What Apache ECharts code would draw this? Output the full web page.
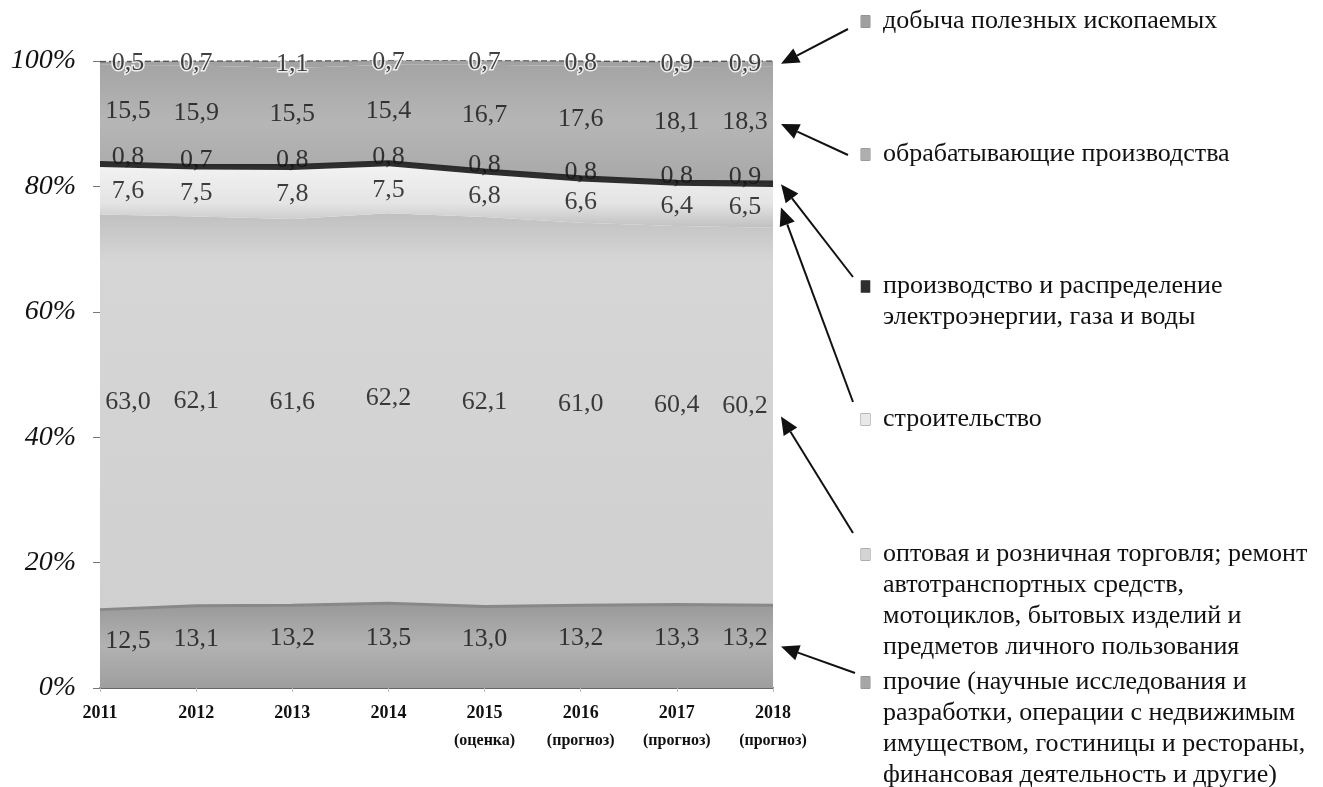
<!DOCTYPE html>
<html>
<head>
<meta charset="utf-8">
<script src="https://cdn.jsdelivr.net/npm/echarts@6/dist/echarts.min.js"></script>
<style>
html,body{margin:0;padding:0;background:#fff;}
#c{width:1323px;height:787px;}
</style>
</head>
<body>
<div id="c"></div>
<script>
// ---------- data ----------
const years = ['2011','2012','2013','2014','2015','2016','2017','2018'];
const yearNotes = ['','','','','(оценка)','(прогноз)','(прогноз)','(прогноз)'];
const yTickLabels = ['0%','20%','40%','60%','80%','100%'];

const other         = [12.5,13.1,13.2,13.5,13.0,13.2,13.3,13.2];
const trade         = [63.0,62.1,61.6,62.2,62.1,61.0,60.4,60.2];
const construction  = [7.6,7.5,7.8,7.5,6.8,6.6,6.4,6.5];
const energy        = [0.8,0.7,0.8,0.8,0.8,0.8,0.8,0.9];
const manufacturing = [15.5,15.9,15.5,15.4,16.7,17.6,18.1,18.3];
const mining        = [0.5,0.7,1.1,0.7,0.7,0.8,0.9,0.9];

const nameOther = 'прочие (научные исследования и разработки, операции с недвижимым имуществом, гостиницы и рестораны, финансовая деятельность и другие)';
const nameTrade = 'оптовая и розничная торговля; ремонт автотранспортных средств, мотоциклов, бытовых изделий и предметов личного пользования';
const nameConstr = 'строительство';
const nameEnergy = 'производство и распределение электроэнергии, газа и воды';
const nameManuf = 'обрабатывающие производства';
const nameMining = 'добыча полезных ископаемых';

const legendLines = {};
legendLines[nameMining] = ['добыча полезных ископаемых'];
legendLines[nameManuf] = ['обрабатывающие производства'];
legendLines[nameEnergy] = ['производство и распределение', 'электроэнергии, газа и воды'];
legendLines[nameConstr] = ['строительство'];
legendLines[nameTrade] = ['оптовая и розничная торговля; ремонт', 'автотранспортных средств,', 'мотоциклов, бытовых изделий и', 'предметов личного пользования'];
legendLines[nameOther] = ['прочие (научные исследования и', 'разработки, операции с недвижимым', 'имуществом, гостиницы и рестораны,', 'финансовая деятельность и другие)'];

// ---------- styling / layout ----------
const SERIF = "'Liberation Serif','Times New Roman',serif";
const stackDefs = [
  {name: nameOther,  data: other,         color: '#a6a6a6', dy: -8,
   fill: new echarts.graphic.LinearGradient(0,0,0,1,[{offset:0,color:'#999'},{offset:0.5,color:'#b2b2b2'},{offset:1,color:'#9e9e9e'}]),
   line: {width: 3, color: '#888'}},
  {name: nameTrade,  data: trade,         color: '#d4d4d4', dy: -10,
   fill: new echarts.graphic.LinearGradient(0,0,0,1,[{offset:0,color:'#c0c0c0'},{offset:0.12,color:'#d6d6d6'},{offset:1,color:'#d0d0d0'}]),
   line: {width: 0}},
  {name: nameConstr, data: construction,  color: '#e8e8e8', dy: 0,
   fill: new echarts.graphic.LinearGradient(0,0,0,1,[{offset:0,color:'#f2f2f2'},{offset:0.6,color:'#e4e4e4'},{offset:1,color:'#c0c0c0'}]),
   line: {width: 0}},
  {name: nameEnergy, data: energy,        color: '#2e2e2e', dy: -7,
   fill: '#2e2e2e', line: {width: 2, color: '#2a2a2a'}},
  {name: nameManuf,  data: manufacturing, color: '#afafaf', dy: -2,
   fill: new echarts.graphic.LinearGradient(0,0,0,1,[{offset:0,color:'#a4a4a4'},{offset:0.5,color:'#b6b6b6'},{offset:1,color:'#a8a8a8'}]),
   line: {width: 0}},
  {name: nameMining, data: mining,        color: '#a0a0a0', dy: 0,
   fill: '#a2a2a2', line: {width: 1.5, color: '#555', type: 'dashed'}, halo: true}
];
const legendOrder = [nameMining, nameManuf, nameEnergy, nameConstr, nameTrade, nameOther];
const legendTops = [6, 139, 271, 404, 539, 667];
const arrowStarts = [[848,29],[848,155],[853,277],[853,402],[853,533],[855,673]];

function fmt(v){ return v.toFixed(1).replace('.', ','); }

// cumulative sums
const cum = [];
let base = years.map(() => 0);
stackDefs.forEach((d) => {
  const lower = base.slice();
  const upper = base.map((b, i) => b + d.data[i]);
  cum.push({lower, upper});
  base = upper;
});

const series = [];
stackDefs.forEach((d) => {
  series.push({
    name: d.name, type: 'line', stack: 'total', data: d.data,
    symbol: 'none', smooth: false,
    itemStyle: {color: d.color},
    lineStyle: Object.assign({}, d.line),
    areaStyle: {color: d.fill, opacity: 1},
    emphasis: {disabled: true}, silent: true, z: 2
  });
});
// value labels at band midpoints
stackDefs.forEach((d, k) => {
  series.push({
    type: 'scatter', symbolSize: 0, silent: true, z: 10, clip: false,
    data: years.map((y, i) => ({
      value: [y, (cum[k].lower[i] + cum[k].upper[i]) / 2, d.data[i]],
      label: {offset: [i === 0 ? 28 : (i === years.length - 1 ? -28 : 0), d.dy]}
    })),
    label: {
      show: true, position: 'inside',
      formatter: p => fmt(p.value[2]),
      fontFamily: SERIF, fontSize: 26, color: '#111',
      textBorderColor: d.halo ? '#fff' : 'transparent', textBorderWidth: d.halo ? 3 : 0
    }
  });
});

const colorOf = {};
stackDefs.forEach(d => colorOf[d.name] = d.color);

const legends = legendOrder.map((nm, j) => ({
  data: [nm], orient: 'vertical', left: 856, top: legendTops[j],
  padding: 0, itemWidth: 0, itemHeight: 0, icon: 'none', selectedMode: false,
  formatter: name => legendLines[name].map((l, i) => (i === 0 ? '{sq|}{g|}' : '{ind|}') + '{t|' + l + '}').join('\n'),
  textStyle: {
    fontFamily: SERIF, fontSize: 26, color: '#111', lineHeight: 31,
    rich: {
      sq: {width: 9, height: 12, backgroundColor: colorOf[nm], borderColor: '#888', borderWidth: 0.5},
      g: {width: 13},
      ind: {width: 22},
      t: {fontFamily: SERIF, fontSize: 26, color: '#111', lineHeight: 31}
    }
  }
}));

const chart = echarts.init(document.getElementById('c'), null, {renderer: 'canvas'});
chart.setOption({
  backgroundColor: '#fff',
  animation: false,
  grid: {left: 100, right: 550, top: 61, bottom: 99, containLabel: false},
  legend: legends,
  xAxis: {
    type: 'category', data: years, boundaryGap: false,
    axisLine: {show: true, lineStyle: {color: '#666', width: 2}},
    axisTick: {show: true, length: 4, lineStyle: {color: '#bbb'}, alignWithLabel: true},
    axisLabel: {
      margin: 11, interval: 0,
      formatter: (v, i) => yearNotes[i] ? '{a|' + v + '}\n{b|' + yearNotes[i] + '}' : '{a|' + v + '}',
      rich: {
        a: {fontFamily: SERIF, fontSize: 18, fontWeight: 'bold', color: '#111', lineHeight: 28},
        b: {fontFamily: SERIF, fontSize: 16, fontWeight: 'bold', color: '#111', lineHeight: 28}
      }
    },
    splitLine: {show: false}
  },
  yAxis: {
    type: 'value', min: 0, max: 100, interval: 20,
    axisLine: {show: true, lineStyle: {color: '#999', width: 1}},
    axisTick: {show: true, length: 7, lineStyle: {color: '#777'}},
    axisLabel: {
      margin: 24, formatter: v => yTickLabels[Math.round(v / 20)],
      fontFamily: SERIF, fontSize: 28, fontStyle: 'italic', color: '#111'
    },
    splitLine: {show: false}
  },
  series: series
});

// annotation arrows from legend items to the last year's bands
const order = legendOrder.map(nm => stackDefs.findIndex(d => d.name === nm));
const graphics = [];
order.forEach((k, j) => {
  const last = years.length - 1;
  const mid = (cum[k].lower[last] + Math.min(cum[k].upper[last], 100)) / 2;
  const tip = chart.convertToPixel({gridIndex: 0}, [years[last], mid]);
  tip[0] += 8;
  const s = arrowStarts[j];
  const dx = tip[0] - s[0], dy = tip[1] - s[1];
  const L = Math.sqrt(dx*dx + dy*dy), ux = dx / L, uy = dy / L;
  const headLen = 18, headW = 8;
  const bx = tip[0] - ux * headLen, by = tip[1] - uy * headLen;
  graphics.push({
    type: 'line', silent: true, z: 20,
    shape: {x1: s[0], y1: s[1], x2: bx, y2: by},
    style: {stroke: '#111', lineWidth: 2}
  });
  graphics.push({
    type: 'polygon', silent: true, z: 20,
    shape: {points: [[tip[0], tip[1]], [bx - uy * headW, by + ux * headW], [bx + uy * headW, by - ux * headW]]},
    style: {fill: '#111'}
  });
});
chart.setOption({graphic: graphics});
</script>
</body>
</html>
